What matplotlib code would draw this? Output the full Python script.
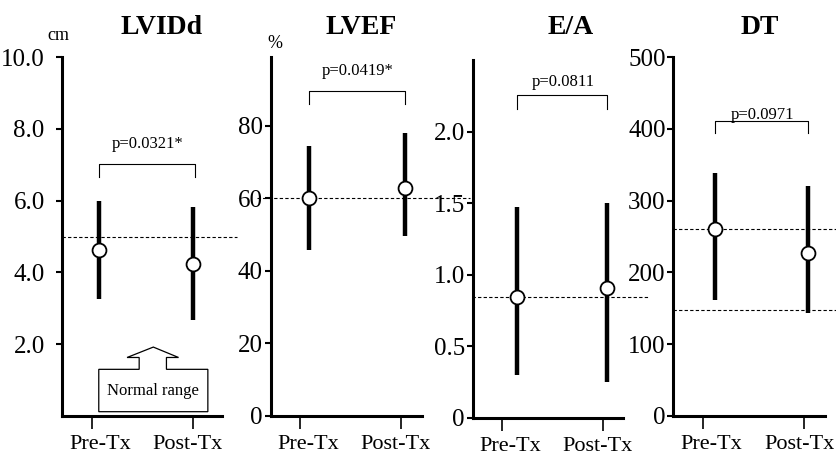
import matplotlib
matplotlib.use('Agg')
import matplotlib.pyplot as plt
import matplotlib.transforms as mtransforms
from matplotlib.patches import Polygon

plt.rcParams['font.family'] = ['Liberation Serif', 'DejaVu Serif']

# data
groups = ['Pre-Tx', 'Post-Tx']
titles = ['LVIDd', 'LVEF', 'E/A', 'DT']
units = ['cm', '%', '', '']
p_texts = ['p=0.0321*', 'p=0.0419*', 'p=0.0811', 'p=0.0971']

lvidd_mean = [4.62, 4.23]
lvidd_high = [6.0, 5.83]
lvidd_low = [3.27, 2.68]
lvidd_ref = [5.0]

lvef_mean = [60.0, 62.8]
lvef_high = [74.4, 78.1]
lvef_low = [45.7, 49.7]
lvef_ref = [60.0]

ea_mean = [0.845, 0.91]
ea_high = [1.47, 1.50]
ea_low = [0.30, 0.25]
ea_ref = [0.845]

dt_mean = [261, 226.5]
dt_high = [339, 320.6]
dt_low = [162, 144]
dt_ref = [261, 147]

lvidd_ticks = [2, 4, 6, 8, 10]
lvef_ticks = [0, 20, 40, 60, 80]
ea_ticks = [0, 0.5, 1.0, 1.5, 2.0]
dt_ticks = [0, 100, 200, 300, 400, 500]
lvidd_ticklabels = ['2.0', '4.0', '6.0', '8.0', '10.0']
lvef_ticklabels = ['0', '20', '40', '60', '80']
ea_ticklabels = ['0', '0.5', '1.0', '1.5', '2.0']
dt_ticklabels = ['0', '100', '200', '300', '400', '500']

# bracket levels (top, leg end, p text baseline)
brackets = [(7.03, 6.65, 7.47), (89.7, 86.0, 93.9), (2.255, 2.16, 2.32), (411, 394, 414)]

panels = [
    (lvidd_mean, lvidd_high, lvidd_low, lvidd_ref, lvidd_ticks, lvidd_ticklabels, 10),
    (lvef_mean, lvef_high, lvef_low, lvef_ref, lvef_ticks, lvef_ticklabels, 99),
    (ea_mean, ea_high, ea_low, ea_ref, ea_ticks, ea_ticklabels, 2.5),
    (dt_mean, dt_high, dt_low, dt_ref, dt_ticks, dt_ticklabels, 500),
]

# layout in pixels of the 837x455 picture
W, H = 837, 455
boxes = [(62, 222, 57, 416), (270.5, 422, 57, 416), (472.5, 623, 60, 418), (673.3, 825, 57, 416)]
tick_px = [(91.7, 192.7), (300, 401), (501.7, 602.7), (703.3, 804.3)]
bar_x = [(0.07, 1.0), (0.09, 1.04), (0.155, 1.04), (0.115, 1.04)]
ref_span = [(62, 237), (257, 470), (472, 648), (673, 837)]
title_x = [161.7, 361, 570.5, 759.5]
unit_xy = [(58, 39.5), (275, 48)]
label_pad = [8.5, 1.5, 1.5, 1.5]

fig = plt.figure(figsize=(W / 100, H / 100), dpi=100)

for i, (mean, high, low, ref, yt, ytl, ytop) in enumerate(panels):
    left, right, top, bottom = boxes[i]
    ax = fig.add_axes([left / W, 1 - bottom / H, (right - left) / W, (bottom - top) / H])
    ax.patch.set_visible(False)
    t0, t1 = tick_px[i]
    ax.set_xlim((left - t0) / (t1 - t0), (right - t0) / (t1 - t0))
    ax.set_ylim(0, ytop)

    for s in ['top', 'right']:
        ax.spines[s].set_visible(False)
    for s in ['left', 'bottom']:
        ax.spines[s].set_linewidth(2.2)

    ax.set_yticks(yt)
    ax.set_yticklabels(ytl, fontsize=18)
    ax.tick_params(axis='y', direction='out', length=4, width=1.5, pad=label_pad[i])
    ax.set_xticks([0, 1])
    ax.set_xticklabels(['', ''])
    ax.tick_params(axis='x', direction='out', length=9, width=1.2)
    for j, g in enumerate(groups):
        lx = [0.08, 0.95][j]
        ax.annotate(g, xy=(lx, 0), xycoords=('data', 'axes fraction'),
                    xytext=(0, -33 * 0.72), textcoords='offset points',
                    ha='center', va='baseline', fontsize=16)

    # reference (normal) lines, running past the axes
    trans = mtransforms.blended_transform_factory(fig.transFigure, ax.transData)
    for v in ref:
        ax.plot([ref_span[i][0] / W, ref_span[i][1] / W], [v, v], transform=trans,
                color='black', lw=0.8, ls=(0, (3, 2)), clip_on=False, zorder=1)

    xs = bar_x[i]
    ax.vlines(xs, low, high, color='black', lw=3.2, zorder=2)
    ax.plot(xs, mean, 'o', ms=10, mfc='white', mec='black', mew=1.3, zorder=3)

    btop, bleg, btxt = brackets[i]
    bx_right = xs[1] + (0.02 if i == 0 else 0)
    ax.plot([xs[0], xs[0], bx_right, bx_right], [bleg, btop, btop, bleg], color='black', lw=0.8)
    ax.text((xs[0] + bx_right) / 2 + 0.01, btxt, p_texts[i], ha='center', va='baseline', fontsize=12)

    fig.text(title_x[i] / W, 1 - 34 / H, titles[i], ha='center', va='baseline',
             fontsize=20, fontweight='bold')

    if i == 0:
        # "Normal range" box with arrow
        bx0, bx1, by0, by1 = 0.07, 1.15, 0.12, 1.30
        sx0, sx1, hx0, hx1, hy, ax_tip, ay_tip = 0.47, 0.74, 0.35, 0.86, 1.63, 0.61, 1.92
        shape = [(bx0, by0), (bx0, by1), (sx0, by1), (sx0, hy), (hx0, hy), (ax_tip, ay_tip),
                 (hx1, hy), (sx1, hy), (sx1, by1), (bx1, by1), (bx1, by0)]
        ax.add_patch(Polygon(shape, closed=True, fill=False, edgecolor='black', lw=0.9))
        ax.text((bx0 + bx1) / 2, (by0 + by1) / 2, 'Normal range', ha='center', va='center',
                fontsize=12)

for k, u in enumerate(units[:2]):
    fig.text(unit_xy[k][0] / W, 1 - unit_xy[k][1] / H, u, ha='center', va='baseline', fontsize=13)

fig.savefig('out.png', dpi=100)
